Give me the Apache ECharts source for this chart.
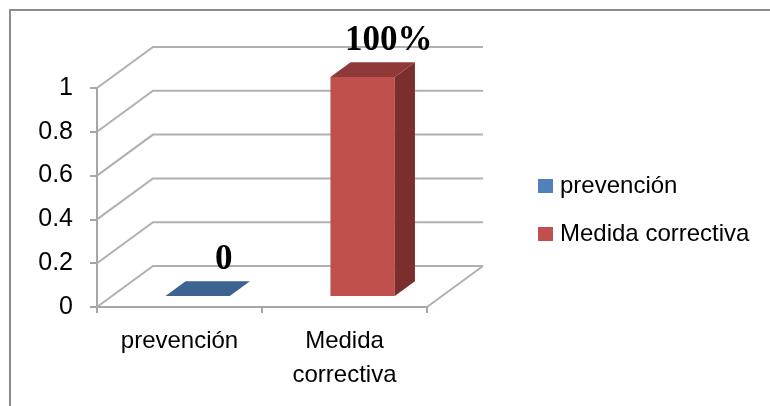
<!DOCTYPE html>
<html>
<head>
<meta charset="utf-8">
<script src="https://cdn.jsdelivr.net/npm/echarts@6/dist/echarts.min.js"></script>
<style>
  html, body { margin: 0; padding: 0; background: #fff; }
  #chart { width: 770px; height: 406px; }
</style>
</head>
<body>
<div id="chart"></div>
<script>
// ---- data ----
const categories = ['prevención', 'Medida correctiva'];
const axisLabels = ['prevención', 'Medida\ncorrectiva'];
const seriesNames = ['prevención', 'Medida correctiva'];
const values = [0, 1];
const valueLabels = ['0', '100%'];
const yTicks = [0, 0.2, 0.4, 0.6, 0.8, 1];

// ---- styles ----
const DEPTH = [56, -41];          // floor depth vector (px)
const BAR_FRONT = 0.27, BAR_BACK = 0.63, BAR_W = 0.39, BAR_SHIFT = 3;
const palette = [
  { front: '#4f81bd', top: '#3d6391', side: '#35557d' },
  { front: '#c0504d', top: '#8f3a38', side: '#7b2f2d' }
];
const gridColor = '#b0b0b0';
const axisColor = '#a6a6a6';
const sansFont = '"Liberation Sans", Arial, sans-serif';

const chart = echarts.init(document.getElementById('chart'), null, { renderer: 'canvas' });

function wallItem(params, api) {
  const v = api.value(1);
  const c0 = api.coord([0, v]);
  const band = api.size([1, 0])[0];
  const left = c0[0] - band / 2;
  const right = api.coord([categories.length - 1, v])[0] + band / 2;
  const y = c0[1];
  const children = [{
    type: 'polyline',
    shape: { points: [[left, y], [left + DEPTH[0], y + DEPTH[1]], [right + DEPTH[0], y + DEPTH[1]]] },
    style: { stroke: gridColor, lineWidth: 2, fill: null }
  }];
  if (v === 0) {
    children.push({
      type: 'polyline',
      shape: { points: [[right, y], [right + DEPTH[0], y + DEPTH[1]]] },
      style: { stroke: gridColor, lineWidth: 2, fill: null }
    });
  }
  return { type: 'group', children };
}

function barItem(idx) {
  return function (params, api) {
    const cat = api.value(0);
    const v = api.value(1);
    const base = api.coord([cat, 0]);
    const topPt = api.coord([cat, v]);
    const band = api.size([1, 0])[0];
    const w = band * BAR_W;
    const fx = base[0] + DEPTH[0] * BAR_FRONT + BAR_SHIFT - w / 2;
    const fy0 = base[1] + DEPTH[1] * BAR_FRONT;
    const fy1 = topPt[1] + DEPTH[1] * BAR_FRONT;
    const ddx = DEPTH[0] * (BAR_BACK - BAR_FRONT);
    const ddy = DEPTH[1] * (BAR_BACK - BAR_FRONT);
    const col = palette[idx];
    const children = [];
    if (fy0 - fy1 > 0.5) {
      children.push({ type: 'rect', shape: { x: fx, y: fy1, width: w, height: fy0 - fy1 }, style: { fill: col.front } });
      children.push({ type: 'polygon', shape: { points: [[fx + w, fy1], [fx + w + ddx, fy1 + ddy], [fx + w + ddx, fy0 + ddy], [fx + w, fy0]] }, style: { fill: col.side } });
    }
    children.push({ type: 'polygon', shape: { points: [[fx, fy1], [fx + w, fy1], [fx + w + ddx, fy1 + ddy], [fx + ddx, fy1 + ddy]] }, style: { fill: col.top } });
    children.push({
      type: 'text',
      style: {
        text: valueLabels[cat],
        x: fx + ddx + w / 2 + 6,
        y: fy1 + ddy - 21,
        fill: '#000',
        fontFamily: '"Liberation Serif", "Times New Roman", serif',
        fontWeight: 'bold',
        fontSize: 35,
        align: 'center',
        verticalAlign: 'middle'
      }
    });
    return { type: 'group', children };
  };
}

const series = [{
  type: 'custom',
  name: '__wall',
  data: yTicks.map(v => [0, v]),
  encode: { x: 0, y: 1 },
  renderItem: wallItem,
  clip: false,
  silent: true,
  z: 1
}];
seriesNames.forEach((name, i) => {
  series.push({
    type: 'custom',
    name: name,
    data: [[i, values[i]]],
    encode: { x: 0, y: 1 },
    renderItem: barItem(i),
    itemStyle: { color: palette[i].front },
    clip: false,
    z: 3
  });
});

chart.setOption({
  animation: false,
  backgroundColor: '#fff',
  graphic: [{
    type: 'rect',
    shape: { x: 10, y: 10, width: 900, height: 600 },
    style: { fill: null, stroke: '#8c8c8c', lineWidth: 2 },
    silent: true
  }],
  grid: { left: 97, right: 343, top: 88, bottom: 99, containLabel: false },
  legend: {
    data: seriesNames,
    orient: 'vertical',
    left: 533,
    top: 169,
    icon: 'rect',
    itemWidth: 15,
    itemHeight: 14,
    itemGap: 24,
    textStyle: { fontFamily: sansFont, fontSize: 24, color: '#000', padding: [0, 0, 0, 2] }
  },
  xAxis: {
    type: 'category',
    data: axisLabels,
    boundaryGap: true,
    axisLine: { show: true, lineStyle: { color: axisColor, width: 2 } },
    axisTick: { show: true, length: 6, alignWithLabel: false, lineStyle: { color: axisColor, width: 2 } },
    axisLabel: { interval: 0, fontFamily: sansFont, fontSize: 24, color: '#000', lineHeight: 34, margin: 17 },
    splitLine: { show: false }
  },
  yAxis: {
    type: 'value',
    min: 0,
    max: 1,
    interval: 0.2,
    axisLine: { show: true, lineStyle: { color: axisColor, width: 2 } },
    axisTick: { show: true, length: 7, lineStyle: { color: axisColor, width: 2 } },
    axisLabel: { fontFamily: sansFont, fontSize: 25, color: '#000', margin: 24 },
    splitLine: { show: false }
  },
  series: series
});
</script>
</body>
</html>
